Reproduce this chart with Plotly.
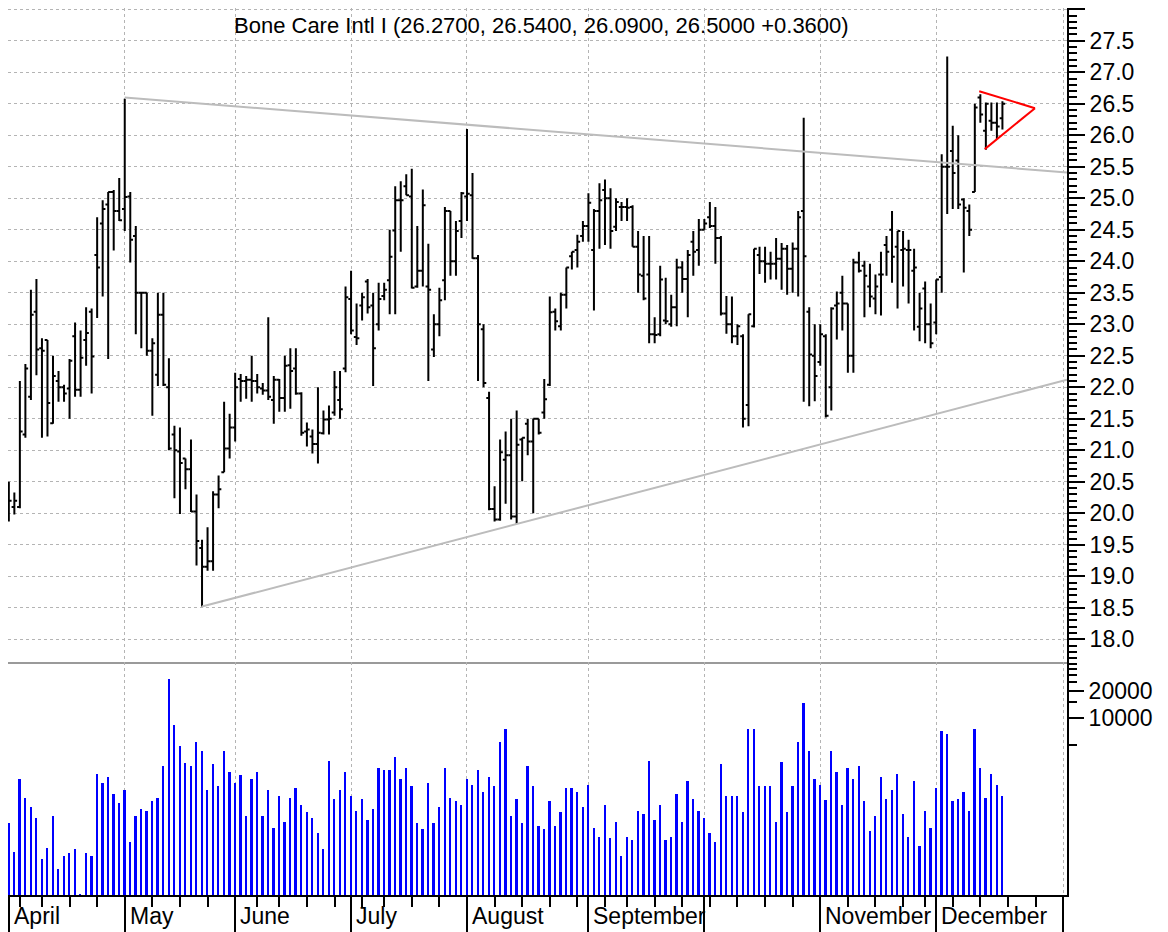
import plotly.graph_objects as go

# ---------------- data ----------------
open_ = [20.26, 20.10, 20.10, 21.25, 21.85, 23.20, 22.62, 22.75, 21.43, 22.10,
         22.00, 21.98, 22.81, 21.96, 22.75, 23.20, 24.10, 24.60, 24.90, 25.10,
         24.80, 24.83, 25.03, 24.40, 23.50, 23.50, 22.58, 22.20, 23.15, 22.00,
         21.25, 20.98, 20.87, 20.70, 20.03, 19.45, 19.15, 19.24, 20.30, 20.65,
         21.03, 21.36, 22.13, 22.10, 22.12, 22.10, 21.98, 21.95, 21.80, 22.12,
         21.83, 22.35, 22.30, 21.90, 21.30, 21.22, 21.10, 21.27, 21.49, 21.60,
         21.80, 22.30, 23.40, 22.80, 23.30, 23.68, 23.30, 23.00, 23.45, 23.70,
         24.49, 24.97, 25.19, 25.03, 23.60, 23.85, 23.60, 22.60, 23.00, 23.70,
         24.80, 24.00, 24.64, 25.03, 25.05, 24.05, 22.92, 21.83, 20.07, 19.90,
         20.85, 20.92, 19.95, 21.17, 21.42, 21.14, 21.50, 21.60, 22.04, 23.20,
         22.97, 23.47, 24.08, 24.18, 24.40, 24.56, 24.18, 24.80, 25.13, 25.00,
         24.55, 24.86, 24.86, 24.86, 24.23, 23.77, 23.79, 22.84, 22.84, 23.06,
         23.00, 23.27, 23.90, 23.72, 24.31, 24.18, 24.50, 24.70, 24.56, 24.37,
         23.17, 23.00, 22.81, 22.81, 21.72, 22.97, 24.10, 24.00, 23.96, 23.96,
         24.04, 24.20, 23.88, 24.20, 24.80, 23.20, 22.50, 22.40, 22.81, 22.00,
         23.30, 23.50, 23.33, 22.50, 23.98, 23.93, 23.60, 23.41, 23.79, 24.26,
         24.50, 24.23, 24.18, 24.18, 23.85, 22.96, 23.57, 23.00, 23.03, 23.75,
         25.50, 25.75, 25.60, 24.98, 24.80, 25.10, 26.60, 26.07, 26.23, 26.20,
         26.27]
high = [20.50, 20.33, 22.10, 22.37, 23.55, 23.72, 22.78, 22.75, 22.50, 22.26,
        22.04, 22.45, 23.03, 22.90, 23.27, 23.25, 24.70, 24.97, 25.10, 25.13,
        25.32, 26.58, 25.10, 24.56, 23.50, 23.50, 22.78, 23.50, 23.50, 22.46,
        21.39, 21.36, 20.87, 21.17, 20.30, 19.58, 19.78, 20.35, 20.60, 21.77,
        21.58, 22.23, 22.21, 22.18, 22.50, 22.21, 22.07, 23.11, 22.18, 22.13,
        22.50, 22.62, 22.62, 21.92, 21.44, 21.33, 22.00, 21.63, 21.71, 22.26,
        22.26, 23.60, 23.85, 23.33, 23.50, 23.72, 23.50, 23.66, 23.66, 24.50,
        25.19, 25.27, 25.38, 25.47, 24.56, 25.14, 24.28, 23.16, 23.58, 24.86,
        24.80, 24.64, 25.10, 26.10, 25.40, 24.10, 23.00, 21.93, 20.43, 21.17,
        21.30, 21.50, 21.63, 21.20, 21.50, 21.50, 21.50, 22.13, 23.44, 23.25,
        23.50, 23.90, 24.15, 24.42, 24.64, 25.08, 24.83, 25.24, 25.30, 25.16,
        25.00, 24.94, 25.00, 24.89, 24.48, 24.40, 24.40, 23.11, 23.93, 23.74,
        23.47, 24.04, 24.00, 24.18, 24.48, 24.67, 24.67, 24.94, 24.86, 24.40,
        23.45, 23.44, 23.00, 22.84, 23.16, 24.20, 24.23, 24.23, 24.15, 24.37,
        24.29, 24.26, 24.30, 24.80, 26.28, 23.27, 23.00, 23.00, 22.84, 23.27,
        23.52, 23.77, 23.33, 24.04, 24.15, 24.01, 23.96, 23.79, 24.15, 24.40,
        24.80, 24.48, 24.48, 24.34, 24.20, 23.50, 23.68, 23.33, 23.71, 25.70,
        27.25, 26.15, 26.00, 25.00, 24.90, 26.50, 26.65, 26.52, 26.52, 26.52,
        26.54]
low = [19.87, 19.98, 20.08, 21.20, 21.80, 22.19, 21.20, 21.22, 21.42, 21.77,
       21.77, 21.50, 21.85, 21.85, 22.34, 21.90, 23.10, 23.44, 22.45, 24.17,
       24.64, 24.48, 23.98, 22.84, 22.62, 22.50, 21.55, 22.02, 22.02, 21.00,
       20.24, 19.99, 20.38, 20.02, 19.17, 18.52, 19.09, 19.09, 20.08, 20.65,
       20.87, 21.14, 21.77, 21.82, 21.77, 21.90, 21.88, 21.80, 21.42, 21.61,
       21.61, 21.66, 21.88, 21.23, 21.06, 20.95, 20.79, 21.25, 21.25, 21.55,
       21.50, 22.24, 22.84, 22.67, 23.06, 23.17, 22.02, 22.90, 23.38, 23.16,
       23.16, 24.15, 25.05, 23.57, 23.58, 23.60, 22.10, 22.48, 22.81, 23.38,
       23.77, 23.77, 24.37, 24.64, 24.04, 22.10, 22.00, 20.05, 19.87, 19.88,
       20.15, 19.90, 19.83, 20.51, 20.92, 20.00, 21.25, 21.50, 22.02, 22.90,
       22.90, 23.25, 23.87, 23.90, 24.31, 24.31, 23.22, 24.20, 24.26, 24.20,
       24.48, 24.64, 24.64, 24.23, 23.50, 23.38, 22.70, 22.70, 22.81, 23.00,
       22.96, 22.97, 23.50, 23.11, 23.77, 23.93, 24.50, 24.53, 23.96, 23.14,
       22.85, 22.70, 22.67, 21.36, 21.38, 22.95, 23.80, 23.66, 23.71, 23.71,
       23.55, 23.47, 23.50, 23.44, 21.77, 21.70, 21.78, 22.34, 21.52, 21.63,
       22.76, 22.90, 22.23, 22.23, 23.82, 23.11, 23.27, 23.16, 23.14, 23.77,
       23.66, 23.25, 23.60, 23.33, 22.90, 22.73, 22.70, 22.62, 22.84, 23.50,
       24.75, 24.83, 24.83, 23.82, 24.40, 25.10, 26.20, 25.77, 26.07, 25.94,
       26.09]
close = [20.20, 20.20, 21.30, 22.30, 23.15, 22.60, 22.58, 21.75, 22.18, 22.00,
         21.90, 22.42, 21.96, 22.47, 22.86, 22.49, 23.90, 24.83, 25.10, 24.80,
         24.65, 25.02, 24.34, 23.50, 23.50, 22.58, 22.70, 23.15, 22.04, 21.03,
         21.00, 20.80, 20.70, 20.03, 19.56, 19.15, 19.24, 20.30, 20.38, 21.03,
         21.36, 22.00, 22.10, 22.12, 22.10, 22.00, 21.95, 21.85, 22.12, 21.83,
         22.34, 22.26, 21.90, 21.28, 21.33, 21.10, 21.28, 21.49, 21.50, 22.00,
         21.65, 23.43, 22.90, 22.78, 23.43, 23.27, 22.62, 23.40, 23.55, 24.07,
         24.97, 24.97, 25.05, 23.58, 23.85, 24.89, 23.55, 23.00, 23.38, 24.80,
         24.00, 24.48, 25.08, 25.07, 24.05, 23.00, 22.07, 20.07, 19.90, 20.97,
         20.92, 19.95, 21.09, 21.20, 21.14, 21.50, 21.28, 21.81, 23.19, 23.05,
         23.47, 23.90, 24.15, 24.31, 24.56, 24.93, 24.80, 24.97, 25.00, 24.48,
         24.94, 24.86, 24.85, 24.23, 23.79, 23.41, 22.84, 22.83, 23.71, 23.05,
         23.27, 23.90, 23.72, 24.10, 24.15, 24.50, 24.60, 24.56, 24.37, 23.17,
         23.00, 22.81, 22.97, 21.50, 23.16, 24.20, 24.00, 23.96, 23.96, 24.04,
         24.20, 23.88, 24.20, 24.70, 24.08, 22.52, 22.18, 22.84, 21.55, 23.25,
         23.33, 23.33, 22.50, 23.98, 23.85, 23.77, 23.44, 23.60, 23.79, 24.15,
         24.07, 24.48, 24.20, 24.18, 23.90, 23.25, 23.00, 22.70, 23.71, 25.50,
         25.50, 25.40, 24.90, 24.85, 24.50, 26.44, 26.33, 26.50, 26.20, 26.14,
         26.50]
volume = [650, 310, 2050, 1260, 1000, 740, 260, 340, 780, 200,
          280, 300, 330, 105, 300, 280, 2350, 1860, 2140, 1390,
          1100, 1530, 400, 780, 950, 900, 1150, 1260, 2870, 27000,
          8200, 4800, 3130, 2870, 5300, 4200, 1530, 3000, 1690, 4200,
          2480, 1860, 2250, 780, 2050, 2480, 780, 1530, 580, 1330,
          680, 1260, 1610, 1040, 860, 740, 510, 330, 3300, 1210,
          1530, 2480, 1330, 900, 1210, 710, 950, 2730, 2610, 2610,
          3630, 2050, 2730, 1690, 650, 560, 1860, 650, 1000, 2730,
          1260, 1150, 1040, 2050, 1770, 2610, 1460, 2140, 1690, 5400,
          7500, 780, 1210, 650, 2870, 1690, 610, 560, 1150, 610,
          860, 1610, 1610, 1460, 1000, 1770, 580, 460, 1040, 440,
          680, 280, 460, 420, 900, 820, 3300, 710, 1040, 420,
          460, 1390, 680, 1950, 1210, 900, 740, 500, 400, 3030,
          1330, 1330, 1330, 860, 7500, 7500, 1690, 1690, 1690, 680,
          3160, 860, 1690, 5400, 14800, 4200, 2050, 1770, 1200, 4200,
          2480, 1040, 2730, 2050, 2870, 1150, 530, 780, 2140, 1210,
          1530, 2350, 820, 460, 1950, 360, 900, 580, 1610, 7100,
          6500, 1150, 1210, 1460, 900, 7500, 2730, 1260, 2350, 1770,
          1330]

# trading-day index of the first session of each month, and their labels
month_tick_idx = [0, 21, 41, 62, 83, 105, 126, 147, 168, 191]
month_labels = ["April", "May", "June", "July", "August", "September", "",
                "November", "December", ""]
# trading-day index of each week's first session (weekly minor ticks)
week_tick_idx = [2, 6, 11, 16, 26, 31, 36, 45, 49, 54, 59, 64, 68, 73, 78,
                 88, 93, 98, 103, 108, 112, 117, 122, 127, 132, 137, 142,
                 152, 157, 162, 166, 171, 176, 181, 186]

price_tickvals = [18.0, 18.5, 19.0, 19.5, 20.0, 20.5, 21.0, 21.5, 22.0, 22.5,
                  23.0, 23.5, 24.0, 24.5, 25.0, 25.5, 26.0, 26.5, 27.0, 27.5, 28.0]
price_ticktext = ["18.0", "18.5", "19.0", "19.5", "20.0", "20.5", "21.0", "21.5",
                  "22.0", "22.5", "23.0", "23.5", "24.0", "24.5", "25.0", "25.5",
                  "26.0", "26.5", "27.0", "27.5", ""]
vol_major_ticks = [10000, 20000]
vol_major_text = ["10000", "20000"]
vol_minor_ticks = [5000, 15000, 25000, 30000, 35000, 40000]

# trend lines (index, price)
upper_trend_x = [21, 191.7]
upper_trend_y = [26.60, 25.41]
lower_trend_x = [35, 191.7]
lower_trend_y = [18.52, 22.12]
pennant_upper_x = [175.8, 185.9]
pennant_upper_y = [26.70, 26.43]
pennant_lower_x = [176.8, 185.9]
pennant_lower_y = [25.78, 26.43]

subtitle = "Bone Care Intl I (26.2700, 26.5400, 26.0900, 26.5000 +0.3600)"

# ---------------- figure ----------------
idx = list(range(len(close)))
x_range = [-0.15, 191.7]
vol_frac = 233 / 887
grid_color = "#b4b4b4"
FONT = "Liberation Sans, Arial, sans-serif"

fig = go.Figure()
fig.add_trace(go.Ohlc(
    x=idx, open=open_, high=high, low=low, close=close,
    increasing=dict(line=dict(color="black", width=2)),
    decreasing=dict(line=dict(color="black", width=2)),
    tickwidth=0.5, xaxis="x", yaxis="y", showlegend=False, hoverinfo="skip"))
for tx, ty, col in [(upper_trend_x, upper_trend_y, "#bcbcbc"),
                    (lower_trend_x, lower_trend_y, "#bcbcbc"),
                    (pennant_upper_x, pennant_upper_y, "#ff0000"),
                    (pennant_lower_x, pennant_lower_y, "#ff0000")]:
    fig.add_trace(go.Scatter(x=tx, y=ty, mode="lines",
                             line=dict(color=col, width=2),
                             xaxis="x", yaxis="y", showlegend=False,
                             hoverinfo="skip", cliponaxis=True))
fig.add_trace(go.Bar(x=idx, y=volume, width=0.32,
                     marker=dict(color="#0000ff", line=dict(width=0)),
                     xaxis="x2", yaxis="y2", showlegend=False, hoverinfo="skip"))

fig.update_layout(
    width=1168, height=932,
    margin=dict(l=0, r=109, t=0, b=29),
    paper_bgcolor="white", plot_bgcolor="white",
    showlegend=False, bargap=0,
    font=dict(family=FONT, size=23, color="black"),
    xaxis=dict(domain=[0, 1], anchor="y", range=x_range,
               tickmode="array", tickvals=month_tick_idx, showticklabels=False,
               ticks="", showgrid=True, gridcolor=grid_color, griddash="dot",
               gridwidth=1, showline=True, linecolor="#9a9a9a", linewidth=1.5,
               zeroline=False, rangeslider=dict(visible=False), fixedrange=True),
    yaxis=dict(domain=[vol_frac, 1], anchor="x", side="right",
               range=[17.64, 28.02], tickmode="array",
               tickvals=price_tickvals, ticktext=price_ticktext,
               ticks="outside", ticklen=16, tickwidth=2, tickcolor="black",
               showline=True, linecolor="black", linewidth=2,
               showgrid=True, gridcolor=grid_color, griddash="dot", gridwidth=1,
               zeroline=False, tickfont=dict(size=23),
               minor=dict(tickmode="linear", tick0=0, dtick=0.1, ticks="outside",
                          ticklen=8, tickwidth=2, tickcolor="black", showgrid=False)),
    xaxis2=dict(domain=[0, 1], anchor="y2", range=x_range,
                tickmode="array", tickvals=month_tick_idx, showticklabels=False,
                ticks="outside", ticklen=45, tickwidth=2, tickcolor="black",
                showgrid=True, gridcolor=grid_color, griddash="dot", gridwidth=1,
                showline=True, linecolor="black", linewidth=1.5, zeroline=False,
                minor=dict(tickmode="array", tickvals=week_tick_idx,
                           ticks="outside", ticklen=10, tickwidth=2,
                           tickcolor="black", showgrid=False)),
    yaxis2=dict(domain=[0, vol_frac], anchor="x2", side="right", type="log",
                range=[2.006, 4.628], tickmode="array",
                tickvals=vol_major_ticks, ticktext=vol_major_text,
                ticks="outside", ticklen=15, tickwidth=2, tickcolor="black",
                showline=True, linecolor="black", linewidth=2,
                showgrid=False, zeroline=False, tickfont=dict(size=23),
                minor=dict(tickmode="array", tickvals=vol_minor_ticks,
                           ticks="outside", ticklen=8, tickwidth=2,
                           tickcolor="black", showgrid=False)),
)

for pos, lab in zip(month_tick_idx, month_labels):
    if lab:
        fig.add_annotation(x=pos, xref="x2", y=0, yref="paper",
                           text=lab, showarrow=False, xanchor="left",
                           yanchor="middle", xshift=3, yshift=-21,
                           font=dict(family=FONT, size=23, color="black"))

fig.add_annotation(x=0.504, xref="paper", y=(895 - 25) / 887, yref="paper",
                   text=subtitle, showarrow=False, xanchor="center",
                   yanchor="middle",
                   font=dict(family=FONT, size=22, color="black"))

fig.write_html("out.html")
